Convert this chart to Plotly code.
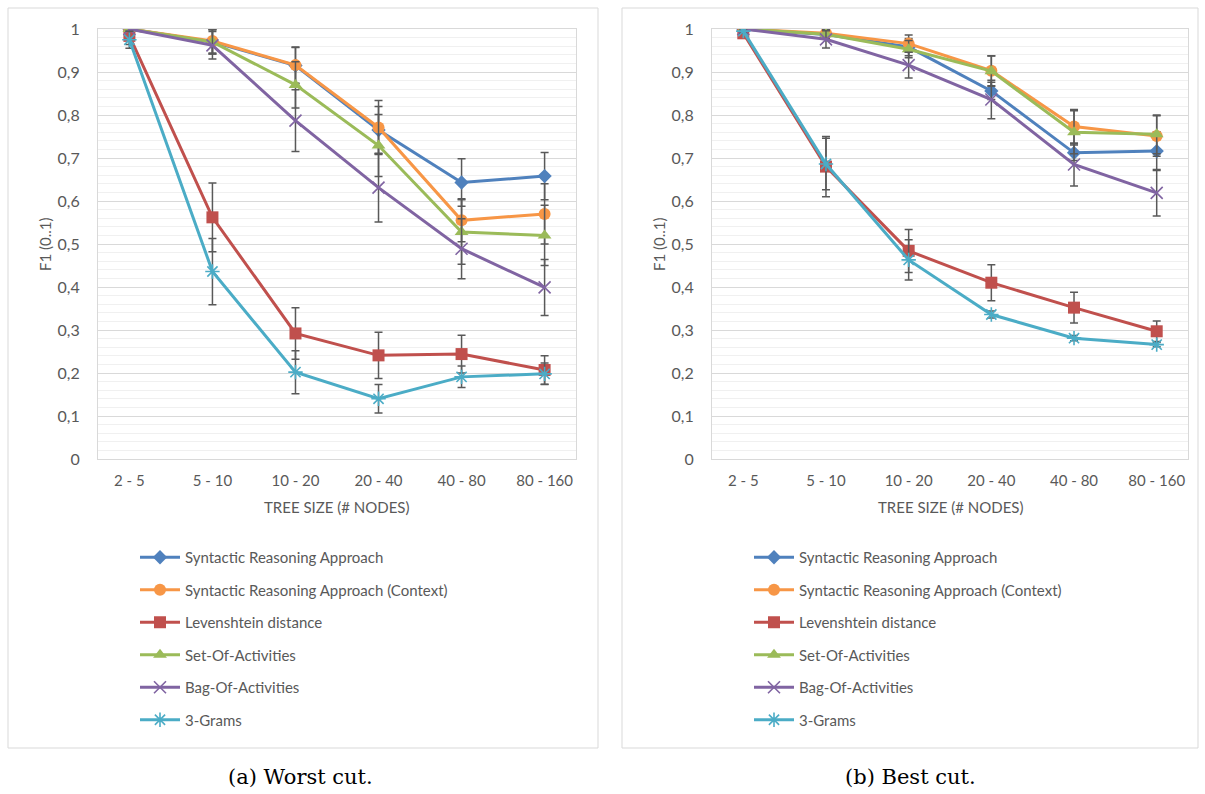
import plotly.graph_objects as go

categories = ["2 - 5", "5 - 10", "10 - 20", "20 - 40", "40 - 80", "80 - 160"]
series_names = [
    "Syntactic Reasoning Approach",
    "Syntactic Reasoning Approach (Context)",
    "Levenshtein distance",
    "Set-Of-Activities",
    "Bag-Of-Activities",
    "3-Grams",
]

# (a) Worst cut
worst_syntactic = [1.0, 0.97, 0.915, 0.765, 0.643, 0.658]
worst_context = [1.0, 0.972, 0.916, 0.771, 0.555, 0.570]
worst_levenshtein = [0.984, 0.562, 0.292, 0.241, 0.244, 0.207]
worst_set = [1.0, 0.97, 0.870, 0.729, 0.528, 0.520]
worst_bag = [1.0, 0.962, 0.787, 0.631, 0.489, 0.399]
worst_3grams = [0.975, 0.436, 0.202, 0.140, 0.191, 0.198]

worst_syntactic_err = [0.005, 0.028, 0.042, 0.055, 0.055, 0.055]
worst_context_err = [0.005, 0.028, 0.042, 0.063, 0.05, 0.07]
worst_levenshtein_err = [0.02, 0.08, 0.06, 0.054, 0.044, 0.033]
worst_set_err = [0.005, 0.028, 0.054, 0.072, 0.075, 0.07]
worst_bag_err = [0.005, 0.032, 0.072, 0.08, 0.07, 0.065]
worst_3grams_err = [0.02, 0.077, 0.05, 0.033, 0.025, 0.025]

# (b) Best cut
best_syntactic = [1.0, 0.987, 0.958, 0.856, 0.712, 0.716]
best_context = [1.0, 0.99, 0.966, 0.903, 0.773, 0.751]
best_levenshtein = [0.99, 0.680, 0.484, 0.410, 0.352, 0.297]
best_set = [1.0, 0.988, 0.953, 0.902, 0.760, 0.755]
best_bag = [1.0, 0.976, 0.916, 0.836, 0.685, 0.619]
best_3grams = [0.995, 0.686, 0.463, 0.336, 0.281, 0.266]

best_syntactic_err = [0.003, 0.01, 0.02, 0.02, 0.018, 0.045]
best_context_err = [0.003, 0.01, 0.02, 0.035, 0.04, 0.047]
best_levenshtein_err = [0.005, 0.07, 0.05, 0.042, 0.036, 0.024]
best_set_err = [0.003, 0.01, 0.02, 0.035, 0.05, 0.045]
best_bag_err = [0.003, 0.02, 0.03, 0.045, 0.05, 0.054]
best_3grams_err = [0.005, 0.06, 0.047, 0.008, 0.006, 0.005]

y_tick_vals = [0, 0.1, 0.2, 0.3, 0.4, 0.5, 0.6, 0.7, 0.8, 0.9, 1]
y_tick_text = ["0", "0,1", "0,2", "0,3", "0,4", "0,5", "0,6", "0,7", "0,8", "0,9", "1"]

colors = ["#4F81BD", "#F79646", "#C0504D", "#9BBB59", "#8064A2", "#4BACC6"]
symbols = ["diamond", "circle", "square", "triangle-up", "x-thin-open", "asterisk-open"]
sizes = [11, 12, 12, 12, 12, 12]

W, H = 1205, 794
FONT = "Lato, 'Open Sans', sans-serif"
GREY_TEXT = "#595959"

def px(x):
    return x / W

def py(y):
    return 1 - y / H

fig = go.Figure()

panels = [
    dict(
        vals=[worst_syntactic, worst_context, worst_levenshtein, worst_set, worst_bag, worst_3grams],
        errs=[worst_syntactic_err, worst_context_err, worst_levenshtein_err, worst_set_err, worst_bag_err, worst_3grams_err],
        xa="x", ya="y", legend="legend",
    ),
    dict(
        vals=[best_syntactic, best_context, best_levenshtein, best_set, best_bag, best_3grams],
        errs=[best_syntactic_err, best_context_err, best_levenshtein_err, best_set_err, best_bag_err, best_3grams_err],
        xa="x2", ya="y2", legend="legend2",
    ),
]

for p_i, p in enumerate(panels):
    for i, name in enumerate(series_names):
        is_line_marker = symbols[i].endswith("-open")
        marker = dict(symbol=symbols[i], size=sizes[i], color=colors[i])
        if is_line_marker:
            marker["line"] = dict(color=colors[i], width=1.6)
        else:
            marker["line"] = dict(width=0)
        fig.add_trace(go.Scatter(
            x=categories, y=p["vals"][i], name=name,
            mode="lines+markers",
            line=dict(color=colors[i], width=3),
            marker=marker,
            error_y=dict(type="data", array=p["errs"][i], visible=True,
                         color="#595959", thickness=1.5, width=4),
            xaxis=p["xa"], yaxis=p["ya"],
            legend=p["legend"], legendgroup=f"{p_i}-{i}",
        ))

axis_common_x = dict(
    type="category", showgrid=False, showline=True, mirror=True,
    linecolor="#d9d9d9", linewidth=1, ticks="",
    tickfont=dict(family=FONT, size=15, color=GREY_TEXT),
    ticklabelstandoff=8, zeroline=False, automargin=False,
)
axis_common_y = dict(
    range=[0, 1], tickvals=y_tick_vals, ticktext=y_tick_text,
    showgrid=True, gridcolor="#d9d9d9", gridwidth=1,
    minor=dict(dtick=0.02, showgrid=True, gridcolor="#f0f0f0", gridwidth=1),
    showline=True, mirror=True, linecolor="#d9d9d9", linewidth=1,
    ticks="", zeroline=False, ticklabelstandoff=14, automargin=False,
    tickfont=dict(family=FONT, size=16, color=GREY_TEXT),
)

plot_top, plot_bottom = 29, 459
left_x0, left_x1 = 98, 576
off = 614

legend_common = dict(xanchor="left", yanchor="top",
                     font=dict(family=FONT, size=15, color=GREY_TEXT),
                     tracegroupgap=10, bgcolor="rgba(0,0,0,0)", itemwidth=40)

fig.update_layout(
    width=W, height=H, autosize=False,
    margin=dict(l=0, r=0, t=0, b=0, pad=0, autoexpand=False),
    paper_bgcolor="white", plot_bgcolor="white",
    showlegend=True,
    xaxis=dict(domain=[px(left_x0), px(left_x1)], anchor="y", **axis_common_x),
    yaxis=dict(domain=[py(plot_bottom), py(plot_top)], anchor="x", **axis_common_y),
    xaxis2=dict(domain=[px(left_x0 + off), px(left_x1 + off - 2)], anchor="y2", **axis_common_x),
    yaxis2=dict(domain=[py(plot_bottom), py(plot_top)], anchor="x2", **axis_common_y),
    legend=dict(x=px(135), y=py(541), **legend_common),
    legend2=dict(x=px(135 + off), y=py(541), **legend_common),
    shapes=[
        dict(type="rect", xref="paper", yref="paper",
             x0=px(8), x1=px(598), y0=py(748), y1=py(8),
             line=dict(color="#d9d9d9", width=1), layer="below"),
        dict(type="rect", xref="paper", yref="paper",
             x0=px(8 + off), x1=px(598 + off - 14), y0=py(748), y1=py(8),
             line=dict(color="#d9d9d9", width=1), layer="below"),
    ],
)

annotations = []
for dx in (0, off):
    annotations.append(dict(
        text="F1 (0..1)", textangle=-90, x=px(45 + dx), y=py(244),
        xref="paper", yref="paper", xanchor="center", yanchor="middle",
        showarrow=False, font=dict(family=FONT, size=15, color=GREY_TEXT)))
    annotations.append(dict(
        text="TREE SIZE (# NODES)", x=px(337 + dx), y=py(507),
        xref="paper", yref="paper", xanchor="center", yanchor="middle",
        showarrow=False, font=dict(family=FONT, size=15, color=GREY_TEXT)))
serif = "'DejaVu Serif', 'Liberation Serif', serif"
annotations.append(dict(
    text="(a) Worst cut.", x=px(300), y=py(777), xref="paper", yref="paper",
    xanchor="center", yanchor="middle", showarrow=False,
    font=dict(family=serif, size=21, color="#000000")))
annotations.append(dict(
    text="(b) Best cut.", x=px(910), y=py(777), xref="paper", yref="paper",
    xanchor="center", yanchor="middle", showarrow=False,
    font=dict(family=serif, size=21, color="#000000")))
fig.update_layout(annotations=annotations)

post = ("document.documentElement.style.margin='0';"
        "document.body.style.margin='0';document.body.style.padding='0';"
        "document.body.style.overflow='hidden';"
        "var gd=document.getElementById('{plot_id}');"
        "gd.style.position='absolute';gd.style.left='0px';gd.style.top='0px';")
fig.write_html("out.html", post_script=post, config={"displayModeBar": False})
